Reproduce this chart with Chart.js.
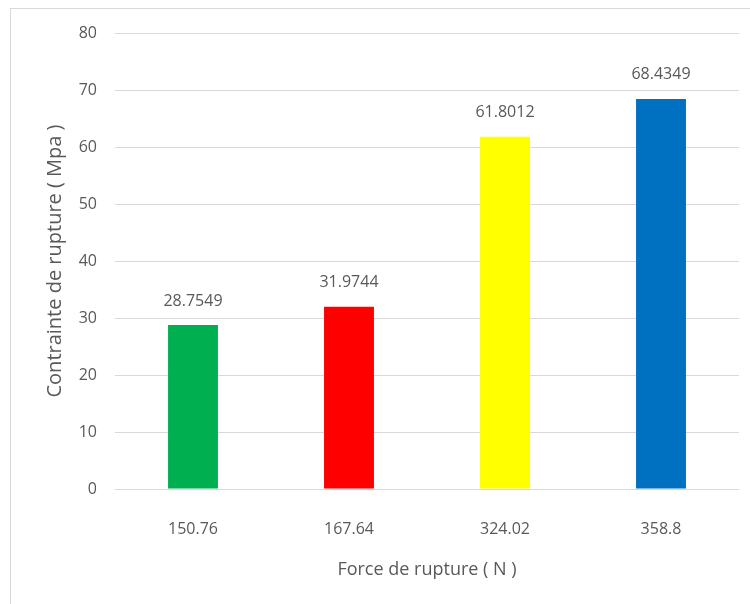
<!DOCTYPE html>
<html>
<head>
<meta charset="utf-8">
<script src="https://cdn.jsdelivr.net/npm/chart.js@4/dist/chart.umd.min.js"></script>
<style>
  body { margin: 0; background: #fff; overflow: hidden; }
  #wrap { position: relative; width: 750px; height: 604px; }
  #cadre { position: absolute; left: 10px; top: 8px; width: 760px; height: 620px; border: 1px solid #d9d9d9; }
  canvas { position: absolute; left: 0; top: 0; }
</style>
</head>
<body>
<div id="wrap">
  <div id="cadre"></div>
  <canvas id="myChart" width="750" height="604"></canvas>
</div>
<script>
// force de rupture (N) et contrainte de rupture (MPa)
var forces = ["150.76", "167.64", "324.02", "358.8"];
var contraintes = [28.7549, 31.9744, 61.8012, 68.4349];
var couleurs = ["#00B050", "#FF0000", "#FFFF00", "#0070C0"];
var yTicks = [0, 10, 20, 30, 40, 50, 60, 70, 80];

var xAchse_Name = "Force de rupture ( N )";
var yAchse_Name = "Contrainte de rupture ( Mpa )";
var gris = "#595959";

// valeurs au-dessus des barres
var etiquettes = {
  id: "etiquettes",
  afterDatasetsDraw: function (chart) {
    var ctx = chart.ctx;
    var meta = chart.getDatasetMeta(0);
    ctx.save();
    ctx.font = "16px 'Open Sans'";
    ctx.fillStyle = gris;
    ctx.textAlign = "center";
    ctx.textBaseline = "middle";
    meta.data.forEach(function (bar, i) {
      ctx.fillText(String(contraintes[i]), bar.x, bar.y - 24);
    });
    ctx.restore();
  },
};

new Chart("myChart", {
  type: "bar",
  data: {
    labels: forces,
    datasets: [
      {
        data: contraintes,
        backgroundColor: couleurs,
        barPercentage: 0.32,
        categoryPercentage: 1,
      },
    ],
  },
  options: {
    responsive: false,
    animation: false,
    layout: { padding: { left: 0, top: 33, right: 11, bottom: 0 } },
    plugins: {
      legend: false,
      tooltip: { enabled: false },
    },
    scales: {
      x: {
        afterFit: function (s) { s.height = 115; },
        grid: { display: false },
        border: { display: false },
        ticks: { color: gris, font: { family: "Open Sans", size: 16 }, padding: 23 },
        title: {
          display: true,
          text: xAchse_Name,
          color: gris,
          font: { family: "Open Sans", size: 18 },
          padding: { top: 0, bottom: 23 },
        },
      },
      y: {
        min: 0,
        max: 80,
        afterFit: function (s) { s.width = 115; },
        afterBuildTicks: function (s) {
          s.ticks = yTicks.map(function (v) { return { value: v }; });
        },
        grid: { color: "#d9d9d9", drawTicks: false },
        border: { display: false },
        ticks: { color: gris, font: { family: "Open Sans", size: 16 }, padding: 18 },
        title: {
          display: true,
          text: yAchse_Name,
          color: gris,
          font: { family: "Open Sans", size: 20 },
          padding: { top: 43, bottom: 0 },
        },
      },
    },
  },
  plugins: [etiquettes],
});
</script>
</body>
</html>
